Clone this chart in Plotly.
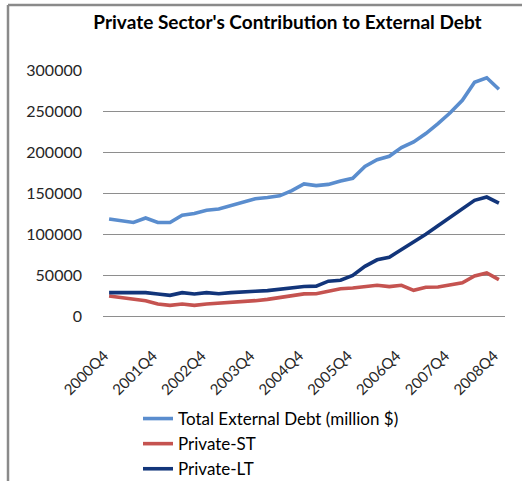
import plotly.graph_objects as go

# Quarterly categories, 2000Q4 through 2008Q4
quarters = ["2000Q4"] + [f"{y}Q{q}" for y in range(2001, 2009) for q in range(1, 5)]
tick_labels = quarters[::4]

# Values in million $
total_external_debt = [118300, 116700, 114000, 119500, 114000, 114000, 123000, 125000,
                       129000, 130500, 134500, 139000, 143000, 144500, 146500, 153000,
                       161000, 159000, 160500, 164500, 168000, 182500, 190500, 194800,
                       205500, 212300, 222500, 234700, 247800, 263000, 285000, 290500,
                       276500]
private_st = [24400, 22800, 20300, 18700, 14600, 13000, 14600, 13000,
              14600, 15400, 16700, 17500, 18700, 20300, 22800, 24800,
              27000, 27200, 30100, 33300, 34100, 36200, 37400, 35800,
              37400, 31300, 35000, 35400, 38200, 40600, 48800, 52400,
              44300]
private_lt = [28500, 28500, 28500, 28500, 26800, 25200, 28500, 26800,
              28500, 27200, 28500, 28900, 30100, 30900, 32900, 34000,
              36000, 36400, 42500, 43700, 49400, 60500, 68500, 71700,
              80700, 90900, 99800, 110000, 120600, 131600, 141000, 145100,
              137700]

series_names = ["Total External Debt (million $)", "Private-ST", "Private-LT"]
series_colors = ["#5a8dce", "#c55350", "#12357a"]

W, H = 522, 481
PL, PR, PT, PB = 103, 505, 70, 316  # plot area edges in pixels


def px_x(p):
    return (p - PL) / (PR - PL)


def px_y(p):
    return (PB - p) / (PB - PT)


fig = go.Figure()
for name, vals, col in zip(series_names, [total_external_debt, private_st, private_lt], series_colors):
    fig.add_trace(go.Scatter(
        x=quarters, y=vals, mode="lines", name=name,
        line=dict(color=col, width=3.6),
    ))

font_family = "Lato, 'Open Sans', sans-serif"
grid_col = "#8e8e8e"

fig.update_layout(
    width=W, height=H,
    margin=dict(l=PL, r=W - PR, t=PT, b=H - PB, pad=0, autoexpand=False),
    paper_bgcolor="white", plot_bgcolor="white",
    font=dict(family=font_family, size=16, color="#262626"),
    title=dict(
        text="<b>Private Sector's Contribution to External Debt</b>",
        xref="container", yref="container",
        x=287.5 / W, xanchor="center",
        y=1 - 22.5 / H, yanchor="middle",
        font=dict(family=font_family, size=19, color="black"),
    ),
    xaxis=dict(
        type="category", range=[-0.5, len(quarters) - 0.5],
        tickmode="array", tickvals=tick_labels, ticktext=tick_labels,
        tickangle=-45, showgrid=False, showline=False, zeroline=False,
        ticks="", ticklabelstandoff=27, ticklabelshift=-5, automargin=False,
        tickfont=dict(size=15, color="#262626"),
    ),
    yaxis=dict(
        range=[0, 300000], dtick=50000, tickformat="d",
        showgrid=True, gridcolor=grid_col, gridwidth=1,
        zeroline=True, zerolinecolor=grid_col, zerolinewidth=1,
        showline=False, ticks="", ticklabelstandoff=20, automargin=False,
        tickfont=dict(size=16, color="#262626"),
    ),
    showlegend=True,
    legend=dict(
        orientation="v", x=px_x(138), xanchor="left",
        y=px_y(401), yanchor="top",
        font=dict(size=17, color="black"),
        bgcolor="rgba(0,0,0,0)", tracegroupgap=0,
    ),
    shapes=[
        dict(type="line", xref="paper", yref="paper",
             x0=px_x(8), x1=px_x(8), y0=px_y(5), y1=px_y(H + 5),
             line=dict(color="#8a8a8a", width=2.5)),
        dict(type="line", xref="paper", yref="paper",
             x0=px_x(8), x1=px_x(W + 5), y0=px_y(5), y1=px_y(5),
             line=dict(color="#8a8a8a", width=2.5)),
    ],
)

fig.write_html("out.html")
